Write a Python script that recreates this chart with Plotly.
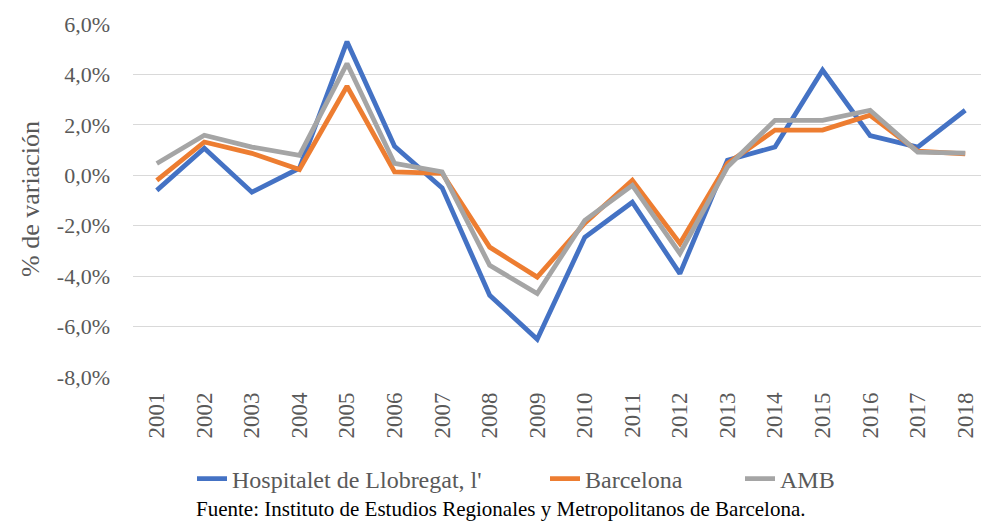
import plotly.graph_objects as go

years = [str(y) for y in range(2001, 2019)]
hospitalet = [-0.6, 1.07, -0.67, 0.28, 5.3, 1.15, -0.5, -4.76, -6.5, -2.46, -1.07, -3.9, 0.6, 1.12, 4.17, 1.57, 1.12, 2.58]
barcelona = [-0.2, 1.32, 0.87, 0.23, 3.53, 0.13, 0.08, -2.85, -4.04, -1.9, -0.2, -2.7, 0.47, 1.79, 1.79, 2.38, 0.96, 0.85]
amb = [0.47, 1.59, 1.12, 0.79, 4.43, 0.47, 0.13, -3.57, -4.69, -1.79, -0.4, -3.1, 0.33, 2.18, 2.18, 2.58, 0.92, 0.88]

series_names = ["Hospitalet de Llobregat, l'", "Barcelona", "AMB"]
colors = ["#4472C4", "#ED7D31", "#A5A5A5"]

y_tickvals = [6, 4, 2, 0, -2, -4, -6, -8]
y_ticktext = ["6,0%", "4,0%", "2,0%", "0,0%", "-2,0%", "-4,0%", "-6,0%", "-8,0%"]

# The page body has an 8px margin, so the figure is drawn 8px in from the top-left
W, H = 981, 516
OFF = 8
ff = "Liberation Serif"

legend_ids = ["legend", "legend2", "legend3"]
legend_x_px = [192, 545, 740]  # window pixels of each legend entry's left edge
legend_y_px = 479

fig = go.Figure()
for name, vals, c, lid in zip(series_names, [hospitalet, barcelona, amb], colors, legend_ids):
    fig.add_trace(go.Scatter(x=years, y=vals, name=name, mode="lines",
                             line=dict(color=c, width=4.8), legend=lid))

legend_common = dict(orientation="h", xref="container", yref="container",
                     xanchor="left", yanchor="middle",
                     font=dict(family=ff, size=24, color="#595959"),
                     bgcolor="rgba(0,0,0,0)", borderwidth=0)
legend_layouts = {}
for lid, lx in zip(legend_ids, legend_x_px):
    legend_layouts[lid] = dict(legend_common, x=(lx - OFF) / W, y=1 - (legend_y_px - OFF) / H)

plot_left, plot_top, plot_w, plot_h = 133, 24, 856, 353
fig.update_layout(
    width=W, height=H,
    margin=dict(l=plot_left - OFF, r=W - (plot_left - OFF) - plot_w, t=plot_top - OFF,
                b=H - (plot_top - OFF) - plot_h, autoexpand=False),
    paper_bgcolor="white", plot_bgcolor="white",
    font=dict(family=ff, color="#595959", size=20),
    xaxis=dict(type="category", range=[-0.5, 17.5], tickangle=-90, showgrid=False,
               zeroline=False, showline=False, ticks="", automargin=False,
               tickfont=dict(family=ff, size=23, color="#595959"),
               ticklabelstandoff=10),
    yaxis=dict(range=[-8, 6], tickvals=y_tickvals, ticktext=y_ticktext,
               showgrid=True, gridcolor="#D9D9D9", gridwidth=1.3, zeroline=False,
               showline=False, ticks="", automargin=False,
               tickfont=dict(family=ff, size=22, color="#595959"),
               ticklabelstandoff=22),
    showlegend=True,
    **legend_layouts,
)
fig.add_annotation(text="% de variación", textangle=-90,
                   xref="paper", yref="paper", x=(30 - plot_left) / plot_w,
                   y=(plot_top + plot_h - 199) / plot_h,
                   xanchor="center", yanchor="middle", showarrow=False,
                   font=dict(size=26, color="#595959", family=ff))
fig.add_annotation(text="Fuente: Instituto de Estudios Regionales y Metropolitanos de Barcelona.",
                   xref="paper", yref="paper", x=(500 - plot_left) / plot_w,
                   y=(plot_top + plot_h - 509) / plot_h,
                   xanchor="center", yanchor="middle", showarrow=False,
                   font=dict(size=21, color="#000000", family=ff))

fig.write_html("out.html")
